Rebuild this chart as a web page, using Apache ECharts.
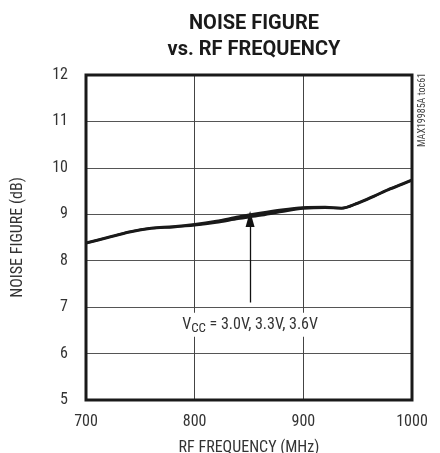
<!DOCTYPE html>
<html>
<head>
<meta charset="utf-8">
<script src="https://cdn.jsdelivr.net/npm/echarts@6/dist/echarts.min.js"></script>
<style>html,body{margin:0;padding:0;background:#fff;}#c{width:440px;height:453px;}</style>
</head>
<body>
<div id="c"></div>
<script>
var freqs = [700, 720, 740, 760, 780, 800, 820, 840, 860, 880, 900, 920, 935, 950, 965, 980, 990, 1000];
var nf30 = [8.37, 8.49, 8.61, 8.69, 8.72, 8.76, 8.82, 8.90, 8.97, 9.05, 9.12, 9.14, 9.12, 9.23, 9.38, 9.54, 9.63, 9.73];
var nf33 = [8.38, 8.50, 8.62, 8.70, 8.73, 8.77, 8.84, 8.92, 9.00, 9.07, 9.14, 9.15, 9.13, 9.24, 9.39, 9.55, 9.64, 9.74];
var nf36 = [8.39, 8.51, 8.63, 8.71, 8.74, 8.79, 8.86, 8.95, 9.03, 9.10, 9.15, 9.16, 9.14, 9.25, 9.40, 9.56, 9.65, 9.75];
var xTicks = [700, 800, 900, 1000];
var yTicks = [5, 6, 7, 8, 9, 10, 11, 12];
var seriesNames = ['3.0V', '3.3V', '3.6V'];
var FONT = "'Liberation Sans Narrow', 'Roboto Condensed', Roboto, sans-serif";

function pairs(vals) { return freqs.map(function (f, i) { return [f, vals[i]]; }); }

var chart = echarts.init(document.getElementById('c'), null, { renderer: 'canvas' });
var lineStyle = { color: '#1a1a1a', width: 2.2 };
var series = [nf30, nf33, nf36].map(function (v, i) {
  return {
    name: seriesNames[i], type: 'line', data: pairs(v), smooth: 0.3,
    showSymbol: false, symbol: 'none', lineStyle: lineStyle, z: 5, silent: true
  };
});
series[1].markLine = {
  silent: true, symbol: ['none', 'triangle'], symbolSize: [9, 16],
  lineStyle: { color: '#111', width: 1.3, type: 'solid' }, label: { show: false },
  data: [[{ coord: [851, 7.1] }, { coord: [851, 8.9] }]]
};
series[1].markPoint = {
  silent: true, symbol: 'rect', symbolSize: 0,
  data: [{ coord: [851, 6.62] }],
  label: {
    show: true, position: 'inside',
    formatter: 'V{sub|CC} = 3.0V, 3.3V, 3.6V',
    fontFamily: FONT, fontSize: 16, color: '#333',
    backgroundColor: '#fff', padding: [2, 3],
    rich: { sub: { fontFamily: FONT, fontSize: 13, color: '#333', padding: [7, 0, 0, 0] } }
  }
};

chart.setOption({
  animation: false,
  backgroundColor: '#fff',
  title: {
    text: 'NOISE FIGURE\nvs. RF FREQUENCY', left: 249, top: 6, textAlign: 'center',
    textStyle: { fontFamily: "'Liberation Sans Narrow', Roboto, sans-serif", fontWeight: 'bold', fontSize: 20, lineHeight: 26, color: '#1a1a1a' }
  },
  grid: { left: 86, right: 28, top: 75, bottom: 53, show: true, borderColor: '#1a1a1a', borderWidth: 3, z: 10,
    containLabel: false, outerBoundsMode: 'none' },
  xAxis: {
    type: 'value', min: 700, max: 1000, interval: 100,
    name: 'RF FREQUENCY (MHz)', nameLocation: 'middle', nameGap: 40,
    nameTextStyle: { fontFamily: FONT, fontSize: 16, color: '#333' },
    axisLine: { show: false }, axisTick: { show: false },
    axisLabel: { fontFamily: FONT, fontSize: 16, color: '#333', margin: 14,
      formatter: function (v) { return xTicks.indexOf(v) >= 0 ? String(v) : ''; } },
    splitLine: { show: true, lineStyle: { color: '#444', width: 1 } }
  },
  yAxis: {
    type: 'value', min: 5, max: 12, interval: 1,
    name: 'NOISE FIGURE (dB)', nameLocation: 'middle', nameGap: 60, nameRotate: 90,
    nameTextStyle: { fontFamily: FONT, fontSize: 16, color: '#333' },
    axisLine: { show: false }, axisTick: { show: false },
    axisLabel: { fontFamily: FONT, fontSize: 16, color: '#333', margin: 18,
      formatter: function (v) { return yTicks.indexOf(v) >= 0 ? String(v) : ''; } },
    splitLine: { show: true, lineStyle: { color: '#555', width: 1 } }
  },
  graphic: [{
    type: 'text', x: 422, y: 110, rotation: Math.PI / 2,
    style: { text: 'MAX19985A toc61', fontFamily: FONT, fontSize: 10, fill: '#444', textAlign: 'center', textVerticalAlign: 'middle' }
  }],
  series: series
});
</script>
</body>
</html>
